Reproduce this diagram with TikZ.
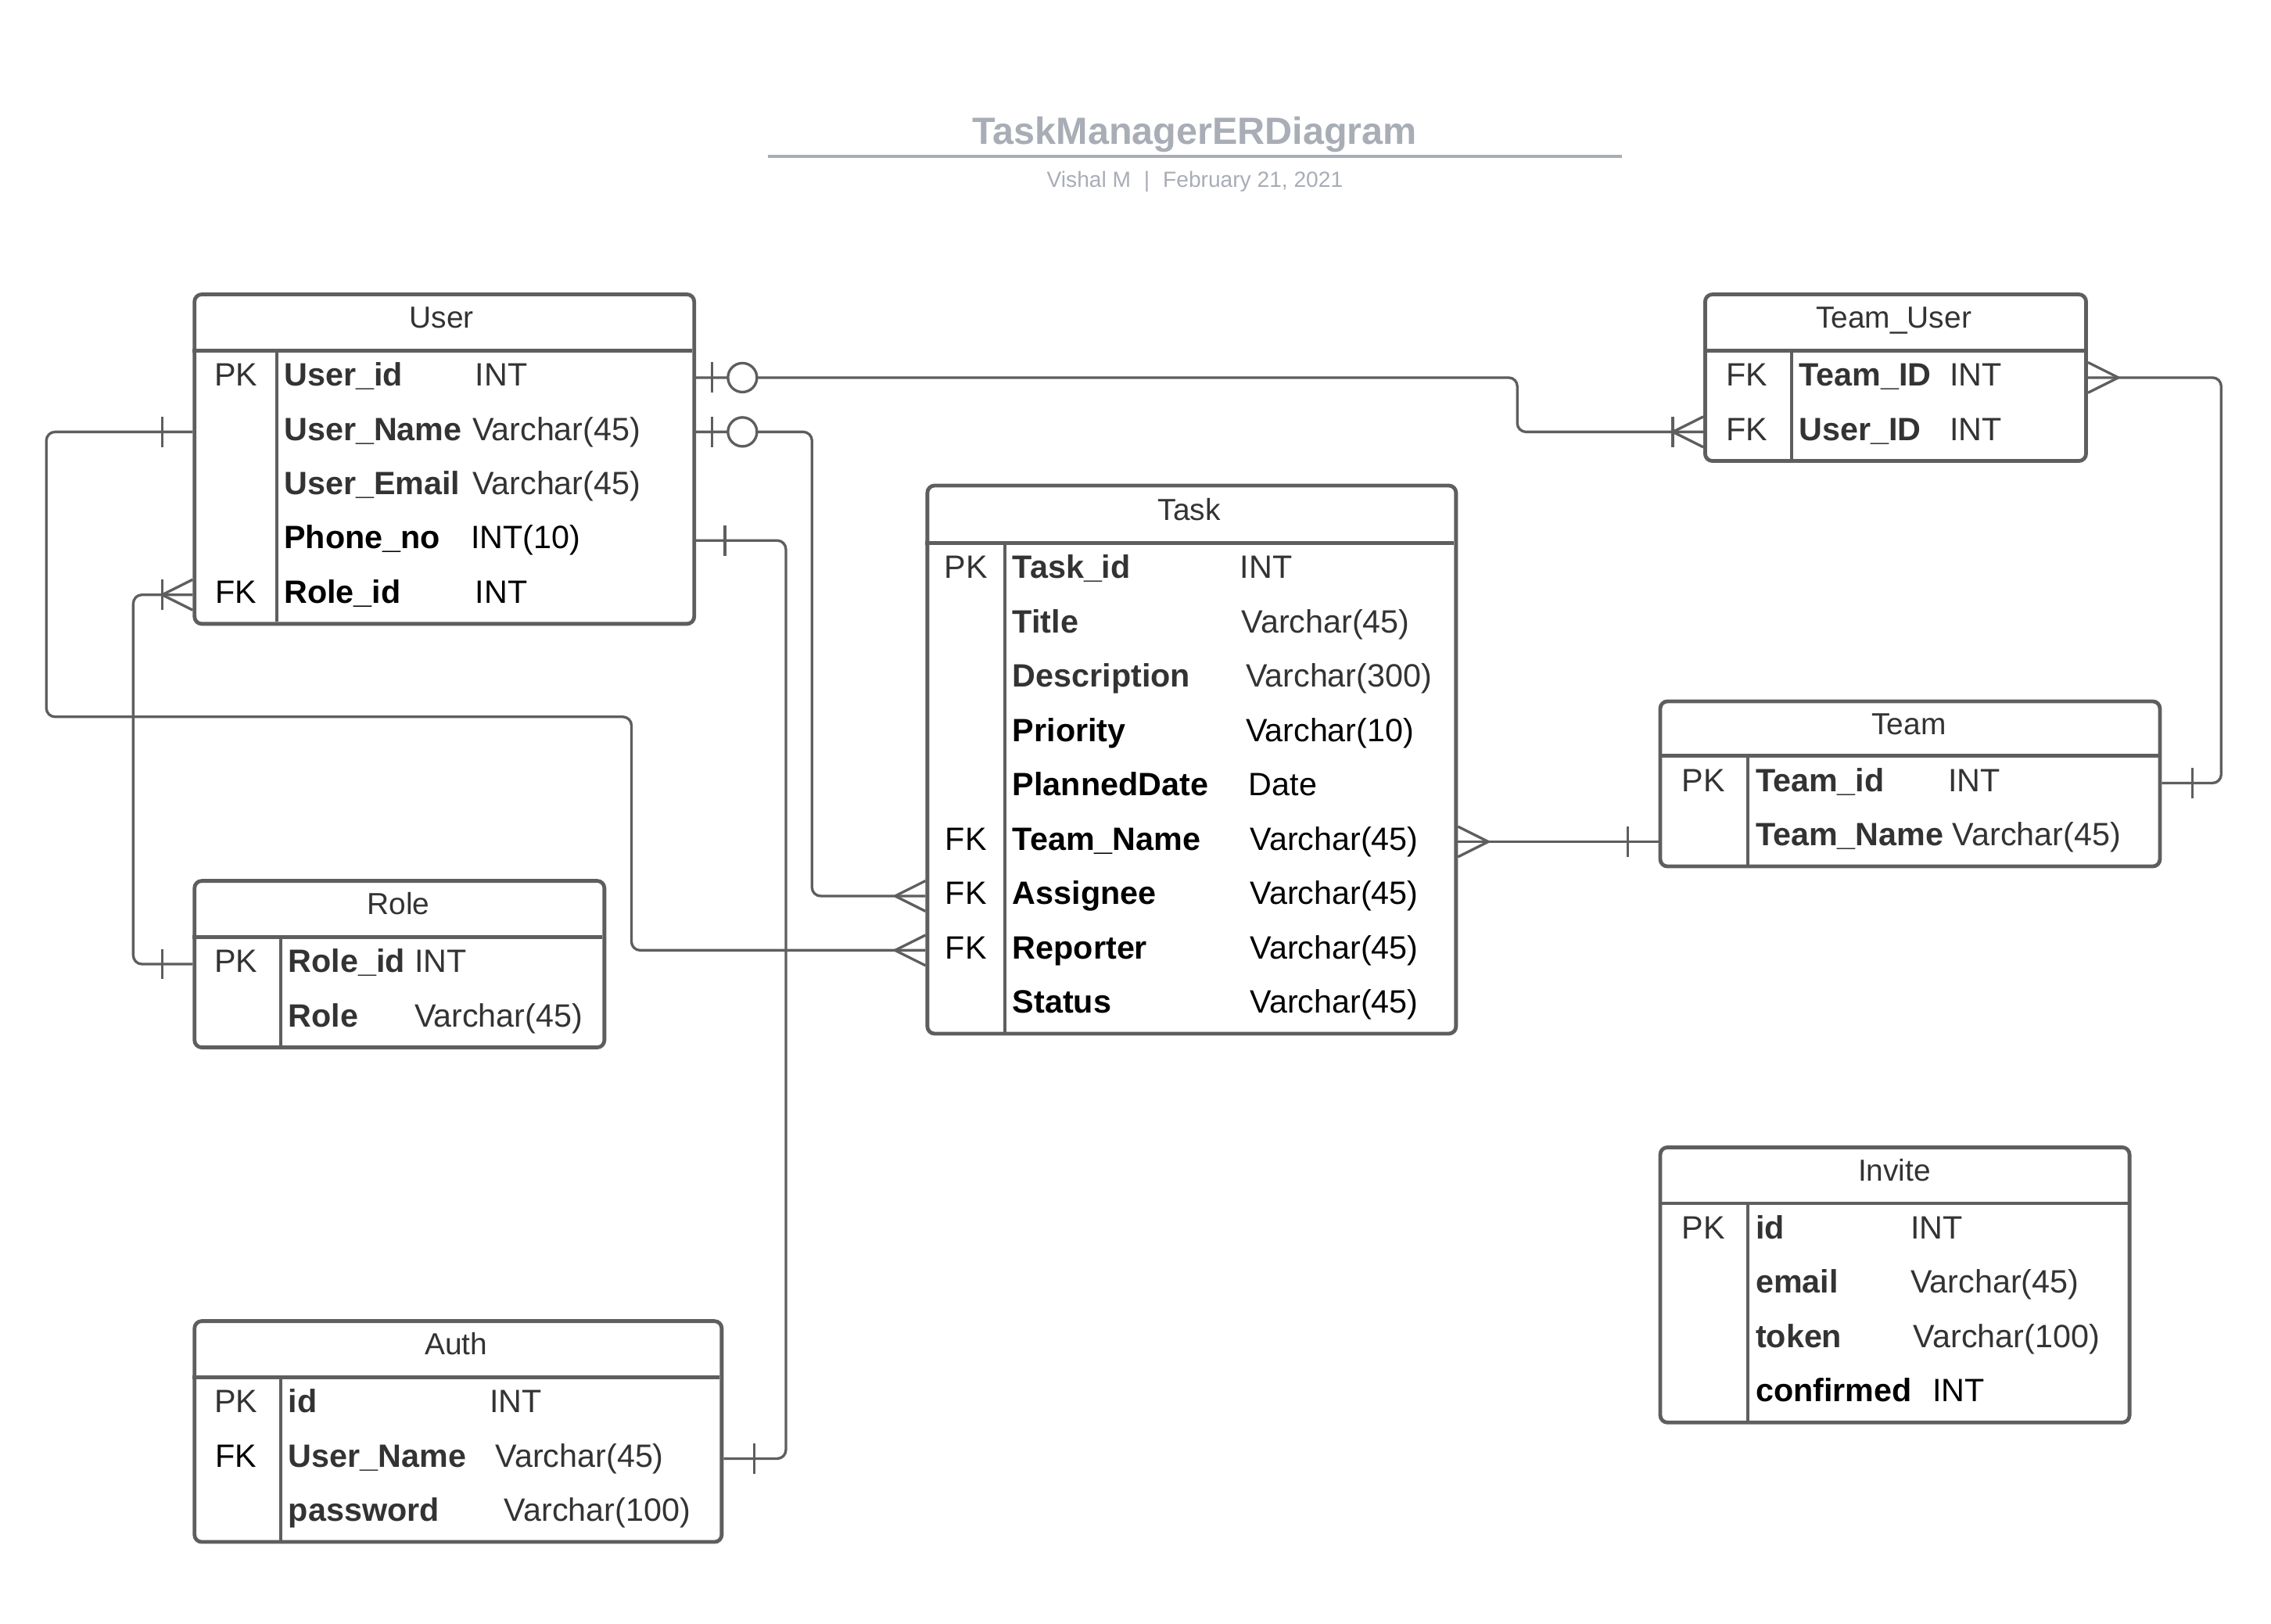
\documentclass[tikz,border=0pt]{standalone}
\usepackage{fontspec}
\setmainfont{Liberation Sans}
\definecolor{bordergray}{RGB}{94,94,94}
\definecolor{txt}{RGB}{51,51,51}
\definecolor{titlegray}{RGB}{168,173,182}
\tikzset{
  ebox/.style={draw=bordergray, line width=2.6pt, rounded corners=5pt, fill=white, anchor=north west, inner sep=0pt},
  divline/.style={draw=bordergray, line width=2.6pt},
  colline/.style={draw=bordergray, line width=2.2pt},
  conn/.style={draw=bordergray, line width=1.8pt, rounded corners=6pt},
  sym/.style={draw=bordergray, line width=1.8pt},
  hdrtxt/.style={font=\fontsize{21}{24}\selectfont, text=txt, inner sep=0pt, text height=11pt, text depth=0pt, anchor=center},
  keytxt/.style={font=\fontsize{22.3}{26}\selectfont, inner sep=0pt, text height=11.5pt, text depth=0pt, anchor=center},
  nametxt/.style={font=\fontsize{22.3}{26}\selectfont\bfseries, inner sep=0pt, text height=11.5pt, text depth=0pt, anchor=west},
  typetxt/.style={font=\fontsize{22.3}{26}\selectfont, inner sep=0pt, text height=11.5pt, text depth=0pt, anchor=west}
}
% #1 name, #2 y, #3 key x, #4 key, #5 name x, #6 name, #7 type x, #8 type, #9 colour
\newcommand\ERrow[9]{%
  \node[keytxt, text=#9] (#1k) at (#3,#2) {#4};
  \node[nametxt, text=#9] (#1) at (#5,#2) {#6};
  \node[typetxt, text=#9] (#1t) at (#7,#2) {#8};}
\newcommand\ERone[2]{\draw[sym] (#1) ++(#2,-10.5) -- ++(0,21);}
\newcommand\ERmany[2]{\draw[sym] (#1) ++(#2,0) -- ++({-(#2)},-10.5) (#1) ++(#2,0) -- ++({-(#2)},10.5);}
\newcommand\ERzero[2]{\draw[sym, fill=white] (#1) ++(#2,0) circle[radius=10pt];}
\begin{document}
\begin{tikzpicture}[x=1pt,y=-1pt]
\useasboundingbox (0,0) rectangle (1568,1121);
\fill[white] (0,0) rectangle (1568,1121);

% title
\node[font=\fontsize{26.2}{30}\selectfont\bfseries, text=titlegray, anchor=base, inner sep=0pt] (title) at (825,99.5) {TaskManagerERDiagram};
\draw[titlegray, line width=2.2pt] (530,108) -- (1120,108);
\node[font=\fontsize{15.2}{18}\selectfont, text=titlegray, anchor=base, inner sep=0pt] (subtitle) at (825,129.5) {Vishal M\hspace{0.6em}|\hspace{0.6em}February 21, 2021};

% ---------- User ----------
\node[ebox, minimum width=345pt, minimum height=227.5pt] (user) at (133,202) {};
\draw[divline] (133,242) -- (478,242);
\draw[colline] (191,242) -- (191,429.5);
\node[hdrtxt] (userh) at (305,221) {User};
\ERrow{uid}{260.75}{163}{PK}{196}{User\_id}{328}{INT}{txt}
\ERrow{uname}{298.25}{163}{}{196}{User\_Name}{326}{Varchar(45)}{txt}
\ERrow{uemail}{335.75}{163}{}{196}{User\_Email}{326}{Varchar(45)}{txt}
\ERrow{uphone}{373.25}{163}{}{196}{Phone\_no}{325}{INT(10)}{black}
\ERrow{urole}{410.75}{163}{FK}{196}{Role\_id}{328}{INT}{black}

% ---------- Team_User ----------
\node[ebox, minimum width=263pt, minimum height=115pt] (tu) at (1176,202) {};
\draw[divline] (1176,242) -- (1439,242);
\draw[colline] (1237,242) -- (1237,317);
\node[hdrtxt] (tuh) at (1307.5,221) {Team\_User};
\ERrow{tutid}{260.75}{1206}{FK}{1242}{Team\_ID}{1346}{INT}{txt}
\ERrow{tuuid}{298.25}{1206}{FK}{1242}{User\_ID}{1346}{INT}{txt}

% ---------- Task ----------
\node[ebox, minimum width=365pt, minimum height=378.5pt] (task) at (639,334) {};
\draw[divline] (639,375) -- (1004,375);
\draw[colline] (694,375) -- (694,712.5);
\node[hdrtxt] (taskh) at (821,354) {Task};
\ERrow{tid}{393.75}{667}{PK}{699}{Task\_id}{856}{INT}{txt}
\ERrow{ttitle}{431.25}{667}{}{699}{Title}{857}{Varchar(45)}{txt}
\ERrow{tdesc}{468.75}{667}{}{699}{Description}{860}{Varchar(300)}{txt}
\ERrow{tprio}{506.25}{667}{}{699}{Priority}{860}{Varchar(10)}{black}
\ERrow{tdate}{543.75}{667}{}{699}{PlannedDate}{862}{Date}{black}
\ERrow{tteam}{581.25}{667}{FK}{699}{Team\_Name}{863}{Varchar(45)}{black}
\ERrow{tassign}{618.75}{667}{FK}{699}{Assignee}{863}{Varchar(45)}{black}
\ERrow{trep}{656.25}{667}{FK}{699}{Reporter}{863}{Varchar(45)}{black}
\ERrow{tstatus}{693.75}{667}{}{699}{Status}{863}{Varchar(45)}{black}

% ---------- Team ----------
\node[ebox, minimum width=345pt, minimum height=114pt] (team) at (1145,483) {};
\draw[divline] (1145,522) -- (1490,522);
\draw[colline] (1207,522) -- (1207,597);
\node[hdrtxt] (teamh) at (1318,502) {Team};
\ERrow{tmid}{540.75}{1176}{PK}{1212}{Team\_id}{1345}{INT}{txt}
\ERrow{tmname}{578.25}{1176}{}{1212}{Team\_Name}{1348}{Varchar(45)}{txt}

% ---------- Role ----------
\node[ebox, minimum width=283pt, minimum height=115pt] (role) at (133,607) {};
\draw[divline] (133,647) -- (416,647);
\draw[colline] (194,647) -- (194,722);
\node[hdrtxt] (roleh) at (275,626) {Role};
\ERrow{rid}{665.75}{163}{PK}{199}{Role\_id}{286}{INT}{txt}
\ERrow{rname}{703.25}{163}{}{199}{Role}{286}{Varchar(45)}{txt}

% ---------- Auth ----------
\node[ebox, minimum width=364pt, minimum height=152.5pt] (auth) at (133,911) {};
\draw[divline] (133,951) -- (497,951);
\draw[colline] (194,951) -- (194,1063.5);
\node[hdrtxt] (authh) at (315,930) {Auth};
\ERrow{aid}{969.75}{163}{PK}{199}{id}{338}{INT}{txt}
\ERrow{aname}{1007.25}{163}{}{199}{User\_Name}{342}{Varchar(45)}{txt}
\node[keytxt, text=black] (anamekey) at (163,1007.25) {FK};
\ERrow{apass}{1044.75}{163}{}{199}{password}{348}{Varchar(100)}{txt}

% ---------- Invite ----------
\node[ebox, minimum width=324pt, minimum height=190pt] (inv) at (1145,791) {};
\draw[divline] (1145,831) -- (1469,831);
\draw[colline] (1207,831) -- (1207,981);
\node[hdrtxt] (invh) at (1308,810) {Invite};
\ERrow{iid}{849.75}{1176}{PK}{1212}{id}{1319}{INT}{txt}
\ERrow{iemail}{887.25}{1176}{}{1212}{email}{1319}{Varchar(45)}{txt}
\ERrow{itoken}{924.75}{1176}{}{1212}{token}{1321}{Varchar(100)}{txt}
\ERrow{iconf}{962.25}{1176}{}{1212}{confirmed}{1334}{INT}{black}

% ---------- connectors ----------
\coordinate (a1) at (user.east |- uid);
\coordinate (b1) at (tu.west |- tuuid);
\draw[conn] (a1) -- ++(567,0) |- (b1);
\ERone{a1}{11} \ERzero{a1}{32}
\ERmany{b1}{-21} \ERone{b1}{-21}

\coordinate (a2) at (user.east |- uname);
\coordinate (b2) at (task.west |- tassign);
\draw[conn] (a2) -- ++(80,0) |- (b2);
\ERone{a2}{11} \ERzero{a2}{32}
\ERmany{b2}{-21}

\coordinate (a3) at (user.east |- uphone);
\coordinate (b3) at (auth.east |- aname);
\draw[conn] (a3) -- ++(62,0) |- (b3);
\ERone{a3}{20}
\ERone{b3}{21}

\coordinate (a4) at (user.west |- uname);
\coordinate (b4) at (task.west |- trep);
\draw[conn] (a4) -| (32,495) -- (436,495) |- (b4);
\ERone{a4}{-21}
\ERmany{b4}{-21}

\coordinate (a5) at (user.west |- urole);
\coordinate (b5) at (role.west |- rid);
\draw[conn] (a5) -- ++(-41,0) |- (b5);
\ERmany{a5}{-21} \ERone{a5}{-21}
\ERone{b5}{-21}

\coordinate (a6) at (tu.east |- tutid);
\coordinate (b6) at (team.east |- tmid);
\draw[conn] (a6) -- ++(92,0) |- (b6);
\ERmany{a6}{21}
\ERone{b6}{21}

\coordinate (a7) at (task.east |- tteam);
\coordinate (b7) at (team.west |- a7);
\draw[conn] (a7) -- (b7);
\ERmany{a7}{21}
\ERone{b7}{-21}
\end{tikzpicture}
\end{document}
